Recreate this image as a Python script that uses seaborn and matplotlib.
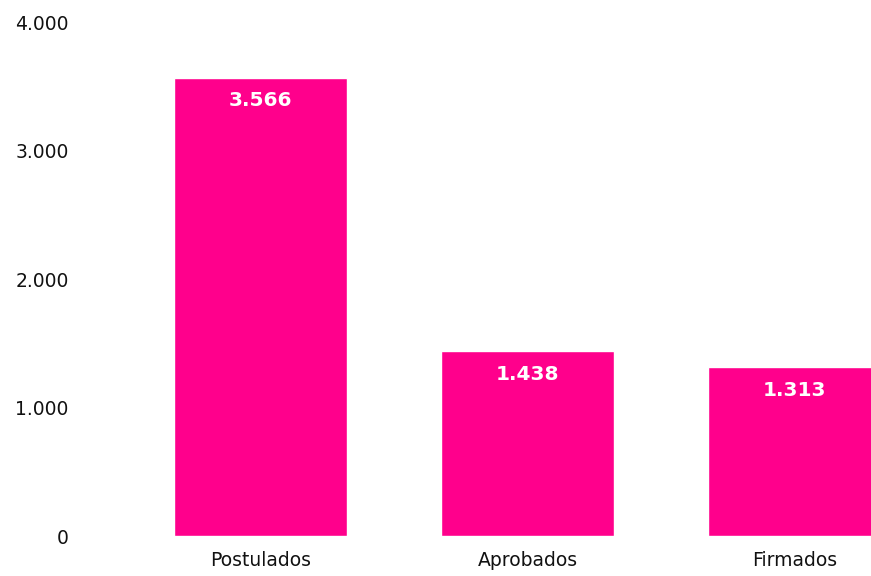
import seaborn as sns
import matplotlib.pyplot as plt
from matplotlib.ticker import FuncFormatter

# Data
categories = ["Postulados", "Aprobados", "Firmados"]
values = [3566, 1438, 1313]
y_ticks = [0, 1000, 2000, 3000, 4000]

bar_color = "#FF008C"


def dot_thousands(v, pos=None):
    return f"{int(v):,}".replace(",", ".")


sns.set_style("white")
plt.rcParams["font.family"] = ["DejaVu Sans"]

fig = plt.figure(figsize=(8.71, 5.76), dpi=100)
ax = fig.add_axes([0.1458, 0.0694, 0.9197, 0.8924])

sns.barplot(x=categories, y=values, color=bar_color, saturation=1,
            width=0.648, ax=ax)

ax.set_xlim(-0.5, 2.5)
ax.set_ylim(0, 4000)
ax.set_yticks(y_ticks)
ax.yaxis.set_major_formatter(FuncFormatter(dot_thousands))
ax.tick_params(axis="y", length=0, pad=42, labelsize=13.5, labelcolor="#111111")
ax.tick_params(axis="x", length=0, pad=10.5, labelsize=13.5, labelcolor="#111111")
ax.set_xlabel("")
ax.set_ylabel("")
sns.despine(ax=ax, left=True, bottom=True)

# Value labels inside the top of each bar
for i, v in enumerate(values):
    ax.annotate(dot_thousands(v), xy=(i, v), xytext=(0, -16.5),
                textcoords="offset points", ha="center", va="center",
                color="white", fontsize=14.5, fontweight="bold")

fig.savefig("out.png", dpi=100)
